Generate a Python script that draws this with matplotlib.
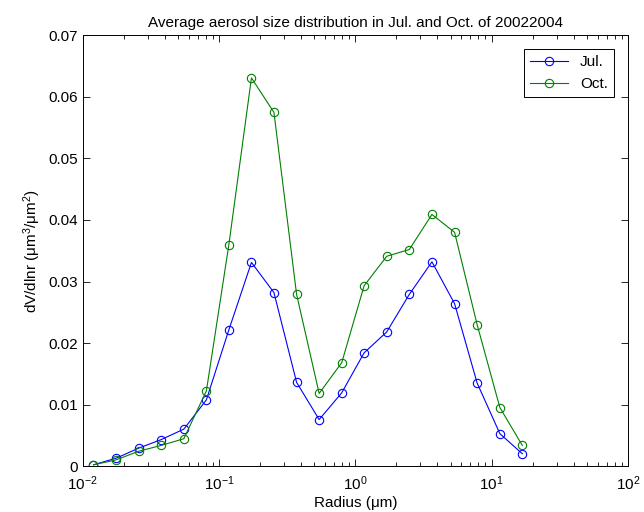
import numpy as np
import matplotlib
matplotlib.use("Agg")
import matplotlib.pyplot as plt
from matplotlib.ticker import LogLocator, NullFormatter

plt.rcParams["font.family"] = ["Liberation Sans", "DejaVu Sans"]
plt.rcParams["mathtext.fontset"] = "custom"
plt.rcParams["mathtext.rm"] = "Liberation Sans"
plt.rcParams["mathtext.it"] = "Liberation Sans:italic"
plt.rcParams["mathtext.bf"] = "Liberation Sans:bold"

# radius bins (um)
radius = [0.0120, 0.0176, 0.0257, 0.0377, 0.0552, 0.0808, 0.118, 0.173,
          0.253, 0.371, 0.543, 0.795, 1.16, 1.70, 2.49, 3.65, 5.35, 7.83,
          11.5, 16.8]

jul = [0.0002, 0.00127, 0.0029, 0.0043, 0.0060, 0.01075, 0.0221, 0.0331,
       0.0282, 0.0136, 0.00755, 0.0119, 0.0184, 0.0218, 0.0279, 0.0332,
       0.0264, 0.0135, 0.00526, 0.0020]

oct_ = [0.0002, 0.0010, 0.0024, 0.00335, 0.00444, 0.0122, 0.0359, 0.0631,
        0.0575, 0.0279, 0.0118, 0.0168, 0.0293, 0.0341, 0.0352, 0.0409,
        0.0380, 0.0230, 0.0095, 0.00335]

yticks = [0, 0.01, 0.02, 0.03, 0.04, 0.05, 0.06, 0.07]
ytick_labels = ["0", "0.01", "0.02", "0.03", "0.04", "0.05", "0.06", "0.07"]

fig = plt.figure(figsize=(6.44, 5.12), dpi=100)
ax = fig.add_axes([0.1284, 0.0898, 0.8466, 0.8409])

ax.plot(radius, jul, color="#0000ff", marker="o", markerfacecolor="none",
        markersize=6, linewidth=0.8, markeredgewidth=0.8, label="Jul.")
ax.plot(radius, oct_, color="#008000", marker="o", markerfacecolor="none",
        markersize=6, linewidth=0.8, markeredgewidth=0.8, label="Oct.")

ax.set_xscale("log")
ax.set_xlim(1e-2, 1e2)
ax.set_ylim(0, 0.07)
ax.set_yticks(yticks)
ax.set_yticklabels(ytick_labels)
ax.xaxis.set_major_locator(LogLocator(base=10, numticks=10))
ax.xaxis.set_minor_locator(LogLocator(base=10, subs=np.arange(2, 10), numticks=20))
ax.xaxis.set_minor_formatter(NullFormatter())

ax.tick_params(which="both", direction="in", top=True, right=True, labelsize=11)
ax.tick_params(which="major", length=5, width=0.6)
ax.tick_params(which="minor", length=3, width=0.6)
ax.tick_params(axis="x", which="major", pad=6)
for s in ax.spines.values():
    s.set_linewidth(0.7)

ax.set_xlabel("Radius (μm)", fontsize=11, labelpad=2)
ax.set_ylabel("dV/dlnr (μm$^3$/μm$^2$)", fontsize=11)
ax.set_title("Average aerosol size distribution in Jul. and Oct. of 20022004",
             fontsize=11)

leg = ax.legend(loc="upper right", fontsize=11, fancybox=False,
                edgecolor="black", framealpha=1, borderaxespad=0.9,
                handlelength=2.5)
leg.get_frame().set_linewidth(0.7)

fig.savefig("out.png", dpi=100)
